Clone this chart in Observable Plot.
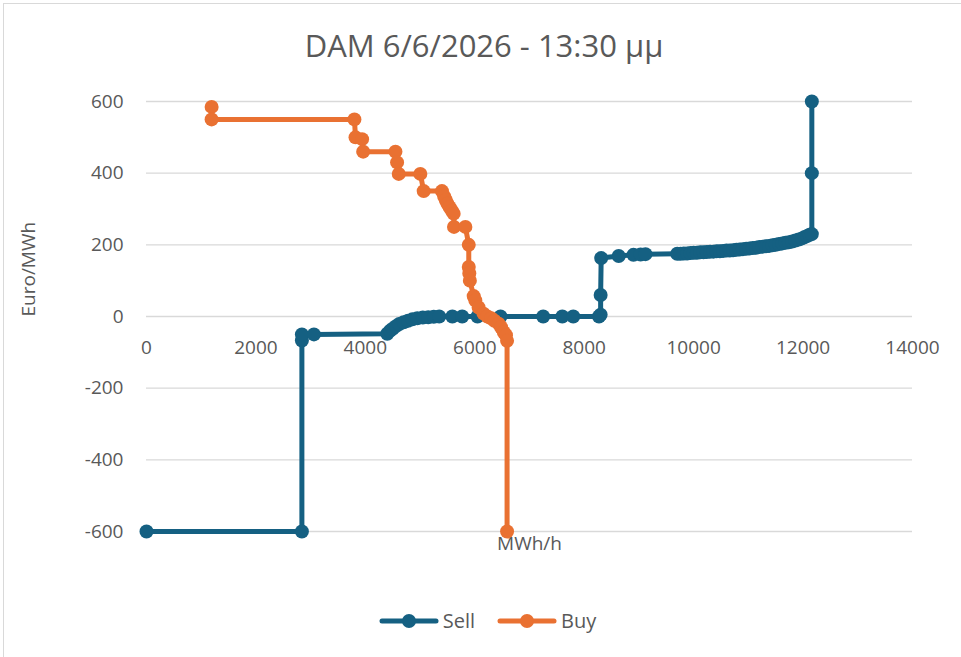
<!DOCTYPE html>
<html>
<head>
<meta charset="utf-8">
<script src="https://cdn.jsdelivr.net/npm/d3@7"></script>
<script src="https://cdn.jsdelivr.net/npm/@observablehq/plot@0.6"></script>
<style>
  html, body { margin: 0; padding: 0; background: #fff; }
  #wrap { position: relative; width: 961px; height: 657px; overflow: hidden; font-family: "Open Sans", sans-serif; color: #595959; }
  #border { position: absolute; left: 3px; top: 3px; width: 970px; height: 670px; border: 1px solid #d9d9d9; box-sizing: border-box; }
  #title { position: absolute; left: 0; top: 23px; width: 968px; text-align: center; font-size: 31px; line-height: 44px; }
  #chart { position: absolute; left: 0; top: 70px; }
  #legend { position: absolute; left: 0; top: 607px; width: 975px; display: flex; justify-content: center; gap: 22px; font-size: 20px; line-height: 28px; }
  .item { display: flex; align-items: center; gap: 4px; }
</style>
</head>
<body>
<div id="wrap">
  <div id="border"></div>
  <div id="title">DAM 6/6/2026 - 13:30 μμ</div>
  <div id="chart"></div>
  <div id="legend"></div>
</div>
<script>
// ---- data ----
const xTicks = [0, 2000, 4000, 6000, 8000, 10000, 12000, 14000];
const yTicks = [-600, -400, -200, 0, 200, 400, 600];

const sellX = [0, 2840, 2840, 2840, 3060, 4400, 4450, 4500, 4560, 4620, 4700, 4780, 4860, 4950, 5050, 5150, 5250, 5350, 5590, 5770, 6050, 6470, 7250, 7600, 7800, 8270, 8300, 8300, 8310, 8630, 8900, 9030, 9120, 9700, 9760, 9820, 9880, 9940, 10000, 10060, 10120, 10180, 10240, 10300, 10360, 10420, 10480, 10540, 10600, 10660, 10720, 10780, 10840, 10900, 10960, 11020, 11080, 11140, 11200, 11260, 11320, 11380, 11440, 11500, 11560, 11620, 11680, 11740, 11800, 11860, 11920, 11980, 12030, 12080, 12120, 12160, 12160, 12160];
const sellY = [-600, -600, -67, -50, -50, -48, -40, -34, -27, -21, -16, -12, -8, -5, -3, -2, -1, 0, 0, 0, 0, 0, 0, 0, 0, 0, 5, 60, 163, 169, 172, 173, 174, 175, 175, 176, 176, 177, 178, 178, 179, 179, 180, 181, 181, 182, 182, 183, 184, 184, 185, 186, 187, 188, 189, 190, 191, 192, 194, 195, 196, 197, 199, 200, 202, 204, 206, 207, 209, 212, 215, 218, 222, 225, 228, 230, 400, 600];

const buyX = [1190, 1190, 3800, 3820, 3940, 3960, 4550, 4580, 4610, 5005, 5066, 5400, 5440, 5470, 5500, 5540, 5580, 5614, 5620, 5828, 5890, 5890, 5900, 5910, 5980, 6010, 6070, 6160, 6230, 6300, 6360, 6436, 6480, 6530, 6570, 6590, 6590];
const buyY = [585, 550, 550, 500, 495, 460, 460, 430, 398, 398, 350, 350, 335, 325, 315, 305, 295, 287, 250, 250, 200, 138, 120, 100, 57, 45, 25, 8, 0, -5, -12, -20, -30, -44, -52, -68, -600];

const seriesNames = ["Sell", "Buy"];
const seriesColors = ["#156082", "#E97132"];

const sell = sellX.map((x, i) => ({x, y: sellY[i]}));
const buy = buyX.map((x, i) => ({x, y: buyY[i]}));

const font = "Open Sans, sans-serif";
const gray = "#595959";

const chart = Plot.plot({
  width: 961,
  height: 520,
  marginTop: 31,
  marginBottom: 59,
  marginLeft: 146,
  marginRight: 49,
  x: {domain: [0, 14000], axis: null},
  y: {domain: [-600, 600]},
  style: {fontFamily: font, fontSize: "19px", color: gray, background: "transparent", overflow: "visible"},
  marks: [
    Plot.ruleY(yTicks, {stroke: "#d9d9d9", strokeWidth: 1.4}),
    Plot.axisY(yTicks, {tickSize: 0, tickPadding: 23, label: null, fontSize: 19, fill: gray, tickFormat: d => String(d)}),
    Plot.text(xTicks, {x: d => d, y: 0, dy: 31, text: d => String(d), fontSize: 19, fill: gray}),
    Plot.text(["MWh/h"], {frameAnchor: "bottom", dy: 18, text: d => d, fontSize: 19, fill: gray}),
    Plot.text(["Euro/MWh"], {frameAnchor: "left", dx: -118, rotate: -90, text: d => d, fontSize: 19, fill: gray}),
    Plot.line(sell, {x: "x", y: "y", stroke: seriesColors[0], strokeWidth: 5, strokeLinejoin: "round"}),
    Plot.dot(sell, {x: "x", y: "y", r: 7, fill: seriesColors[0]}),
    Plot.line(buy, {x: "x", y: "y", stroke: seriesColors[1], strokeWidth: 5, strokeLinejoin: "round"}),
    Plot.dot(buy, {x: "x", y: "y", r: 7, fill: seriesColors[1]})
  ]
});
document.getElementById("chart").appendChild(chart);

const legend = document.getElementById("legend");
seriesNames.forEach((name, i) => {
  const item = document.createElement("div");
  item.className = "item";
  item.innerHTML = `<svg width="60" height="18"><line x1="3" y1="9" x2="57" y2="9" stroke="${seriesColors[i]}" stroke-width="5" stroke-linecap="round"/><circle cx="30" cy="9" r="7" fill="${seriesColors[i]}"/></svg><span>${name}</span>`;
  legend.appendChild(item);
});
</script>
</body>
</html>
